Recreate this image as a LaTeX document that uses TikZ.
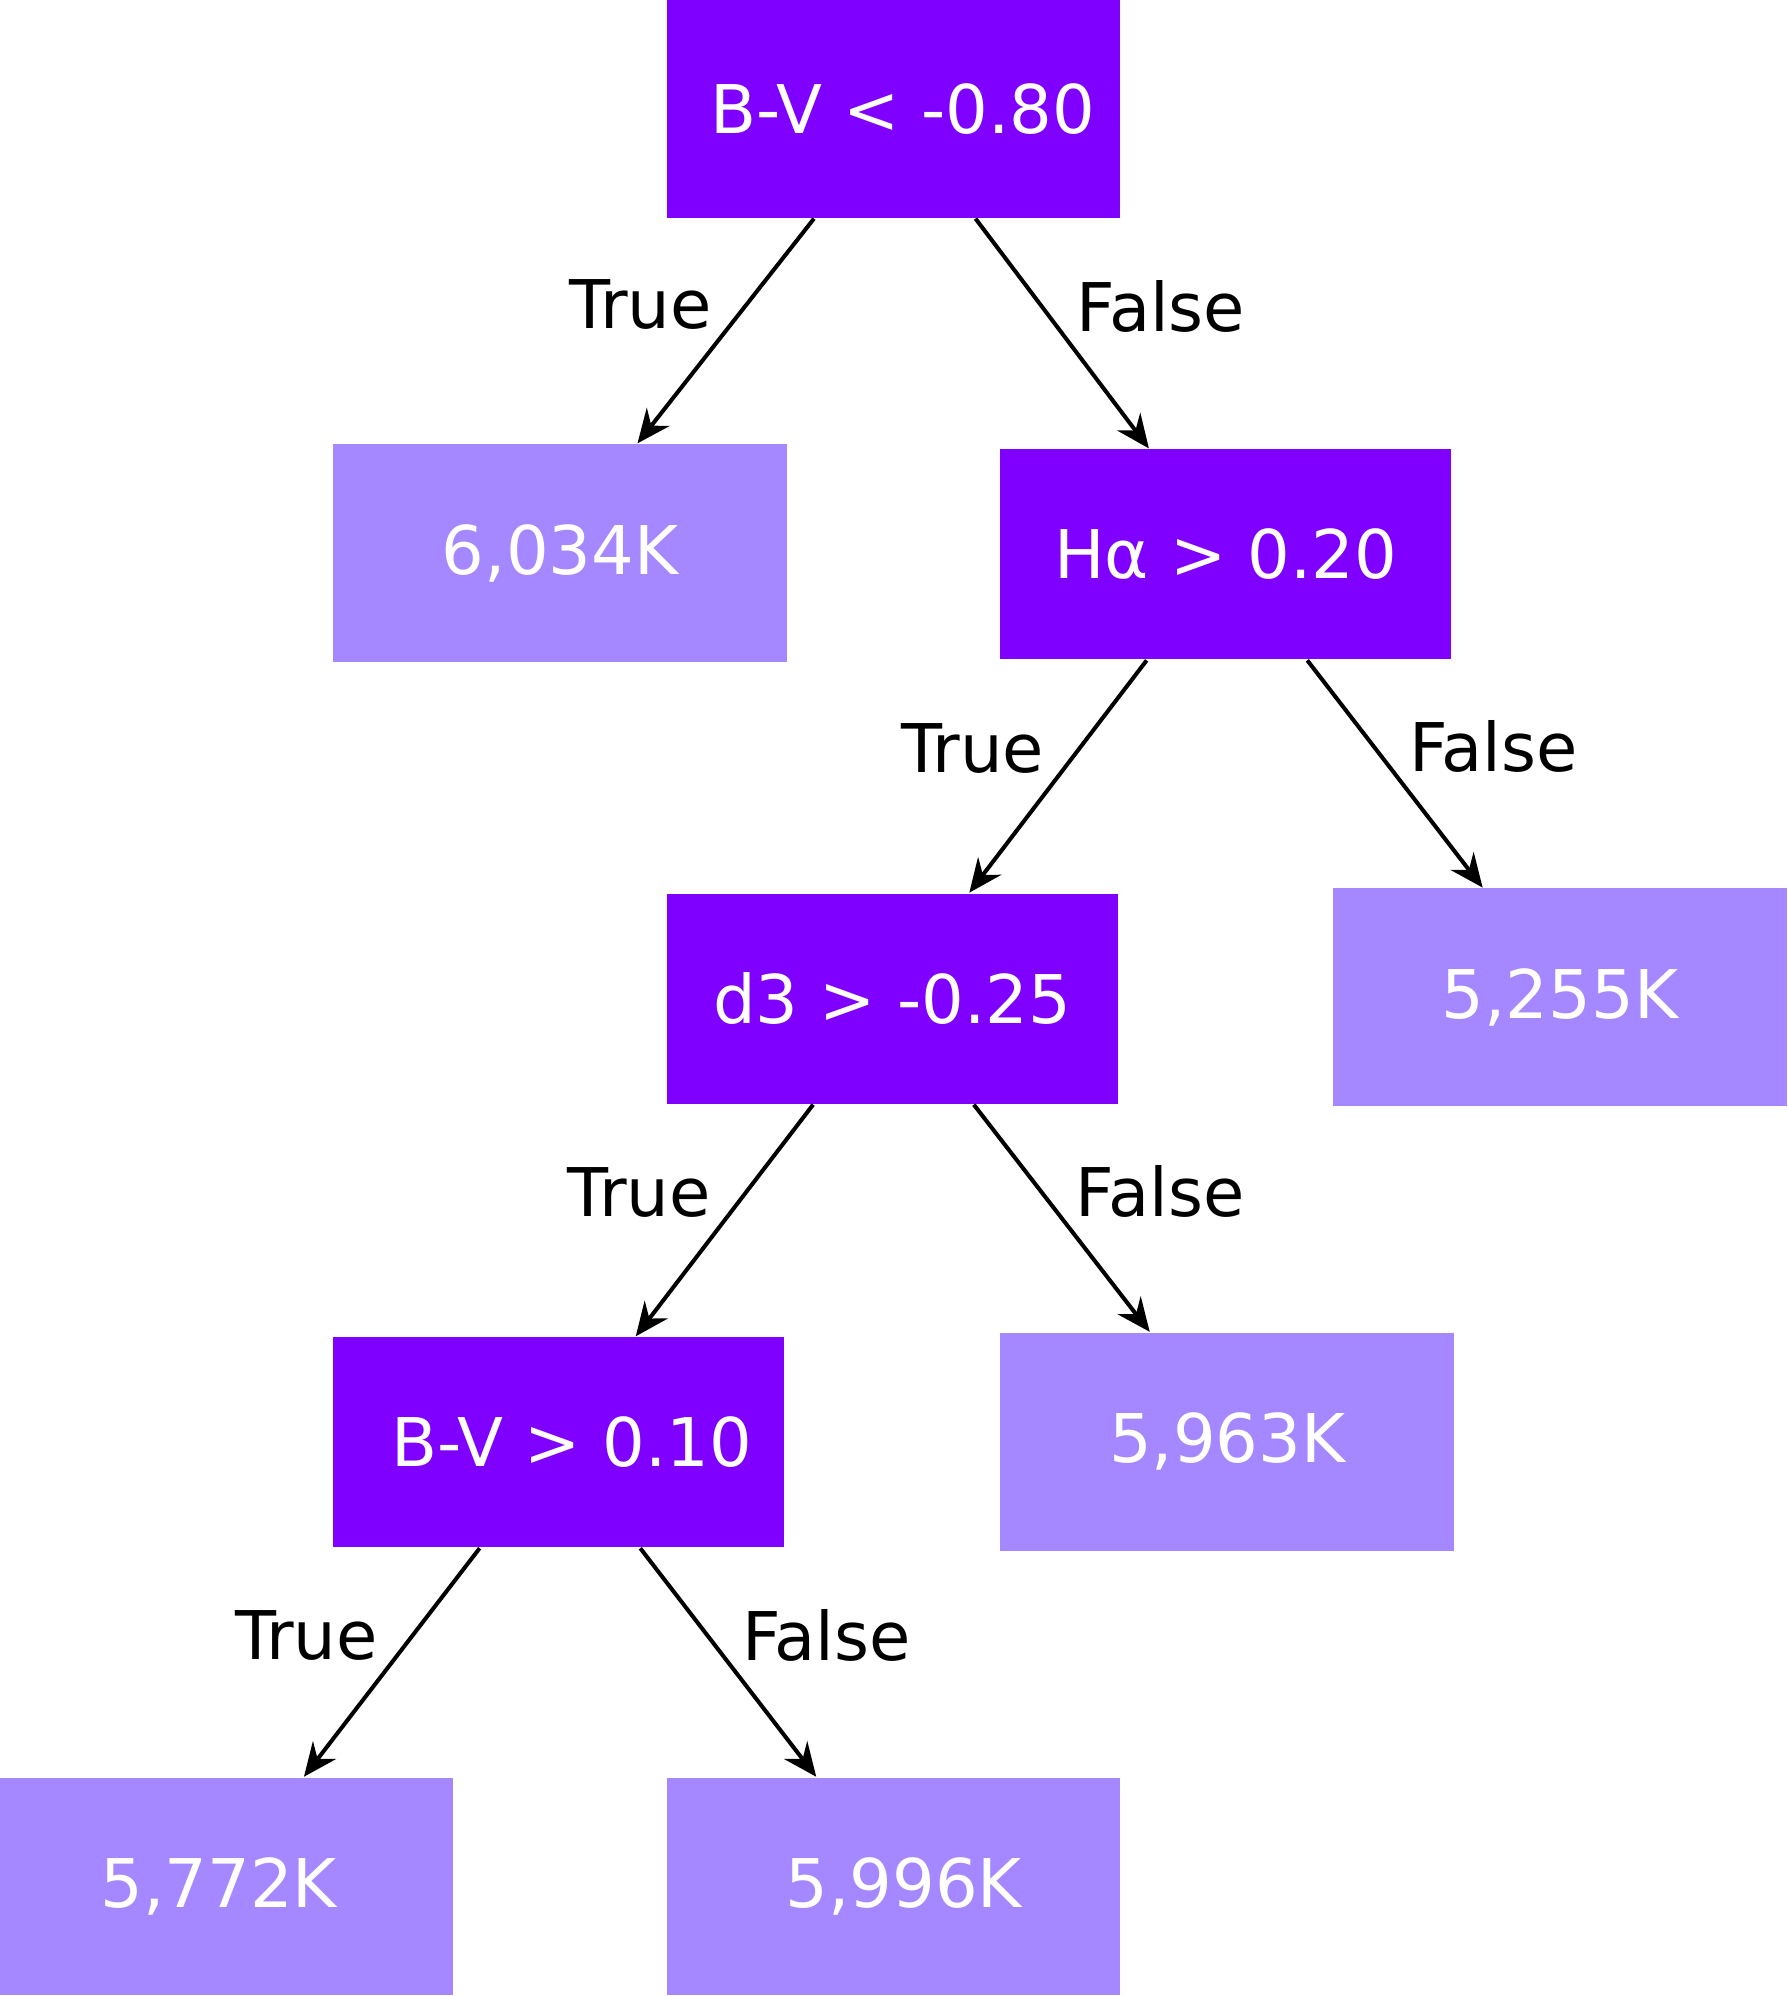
\documentclass[tikz,border=0pt]{standalone}
\usepackage{fontspec}
\setmainfont{DejaVu Sans}
\usetikzlibrary{arrows.meta,calc}
\definecolor{splitcol}{HTML}{7F00FF}
\definecolor{leafcol}{HTML}{A588FF}
\tikzset{
	split/.style={fill=splitcol, text=white, inner sep=0pt,
			minimum width=3.54cm, minimum height=1.65cm, font=\fontsize{15}{18}\selectfont},
	leaf/.style={fill=leafcol, text=white, inner sep=0pt,
			minimum width=3.56cm, minimum height=1.71cm, font=\fontsize{15}{18}\selectfont},
	branch/.style={-{Stealth[length=7.5pt,width=6.5pt,inset=2.5pt]}, line width=0.9pt},
	answer/.style={inner sep=0pt, font=\fontsize{15}{18}\selectfont}
}

\begin{document}
\begin{tikzpicture}[x=0.01cm, y=-0.01cm]
	\useasboundingbox (0,0) rectangle (1404,1568);

	\node[split, minimum width=3.56cm, minimum height=1.71cm] (root) at (702,85.5) {\hspace*{0.14cm}B-V < -0.80};
	\node[leaf] (t1) at (440,434.5) {6,034K};
	\node[split] (ha) at (963,435.5) {Hα > 0.20};
	\node[split] (d3) at (701,784.5) {d3 > -0.25};
	\node[leaf] (t2) at (1225.5,783.5) {5,255K};
	\node[split] (bv) at (439,1133) {\hspace*{0.2cm}B-V > 0.10};
	\node[leaf] (t3) at (964,1132.5) {5,963K};
	\node[leaf] (t4) at (178,1482) {5,772K\hspace*{0.12cm}};
	\node[leaf] (t5) at (702,1482) {\hspace*{0.16cm}5,996K};

	% true branches go left, false branches go right
	\foreach \p/\c in {root/t1, ha/d3, d3/bv, bv/t4}
		\draw[branch] ($(\p.south west)!.325!(\p.south east)$)
			-- node[answer, pos=.38, left=0.26cm] {True} ($(\c.north west)!.67!(\c.north east)$);
	\foreach \p/\c in {root/ha, ha/t2, d3/t3, bv/t5}
		\draw[branch] ($(\p.south west)!.68!(\p.south east)$)
			-- node[answer, pos=.38, right=0.26cm] {False} ($(\c.north west)!.33!(\c.north east)$);
\end{tikzpicture}
\end{document}
